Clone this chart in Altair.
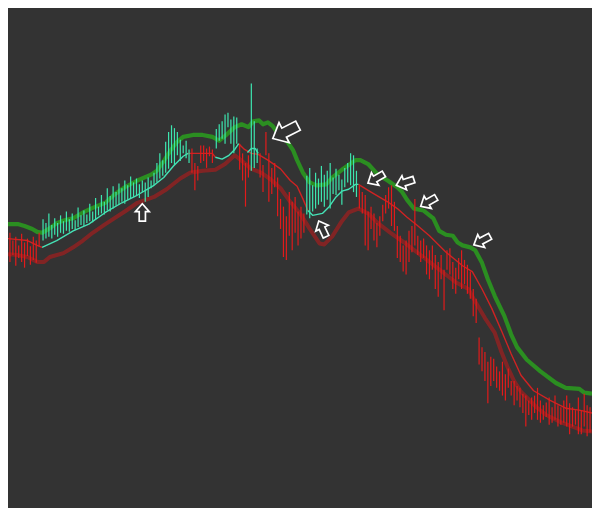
import altair as alt
import pandas as pd

# ---- price levels (screen-price units, larger = lower on chart) ----
green_band = [(0, 223), (10, 223), (17, 225), (25, 228), (30, 231), (35, 232), (42, 228), (50, 222),
              (58, 219), (67, 217), (77, 211), (90, 205), (100, 201), (110, 192), (120, 185), (133, 178),
              (147, 172), (153, 168), (160, 158), (167, 147), (173, 139), (180, 133), (190, 131), (200, 131),
              (210, 133), (217, 137), (223, 132), (233, 123), (240, 120), (247, 123), (252, 117), (258, 116),
              (262, 120), (267, 118), (272, 122), (280, 133), (287, 138), (293, 147), (297, 157), (303, 170),
              (310, 180), (317, 183), (327, 182), (333, 175), (343, 167), (350, 162), (357, 157), (362, 157),
              (370, 161), (380, 172), (390, 178), (400, 185), (405, 190), (410, 198), (417, 207), (427, 209),
              (437, 217), (443, 230), (450, 234), (457, 235), (462, 242), (467, 245), (475, 247), (480, 250),
              (487, 263), (493, 280), (500, 297), (510, 318), (517, 337), (523, 350), (533, 363), (547, 375),
              (563, 387), (573, 392), (587, 393), (592, 397), (600, 398)]

lower_band = [(0, 254), (10, 255), (20, 257), (30, 262), (37, 262), (43, 257), (57, 253), (67, 247),
              (77, 240), (87, 232), (100, 223), (120, 210), (133, 201), (150, 195), (163, 187), (177, 176),
              (187, 170), (200, 168), (213, 167), (223, 161), (233, 152), (238, 156), (250, 166), (260, 170),
              (270, 177), (280, 186), (290, 200), (300, 212), (310, 228), (320, 243), (325, 244), (333, 236),
              (343, 220), (350, 211), (360, 207), (370, 212), (380, 222), (393, 232), (407, 242), (420, 252),
              (433, 262), (447, 273), (460, 283), (473, 290), (480, 303), (490, 320), (500, 335), (507, 355),
              (513, 370), (520, 385), (527, 396), (533, 402), (543, 412), (553, 420), (567, 427), (580, 432),
              (590, 436), (600, 437)]

mid_down_1 = [(0, 238), (20, 240), (30, 245), (35, 247)]
mid_up_1 = [(35, 247), (50, 240), (67, 230), (83, 223), (100, 211), (117, 201), (133, 193), (150, 183),
            (160, 175), (170, 163), (180, 153), (185, 150)]
mid_down_2 = [(185, 150), (200, 150), (210, 150), (213, 154)]
mid_up_2 = [(213, 154), (220, 156), (227, 152), (233, 146), (237, 140)]
mid_down_3 = [(237, 140), (243, 146), (250, 150), (257, 151), (267, 157), (280, 166), (290, 178),
              (297, 184), (303, 197), (308, 209)]
mid_up_3 = [(246, 149), (250, 145), (254, 145), (257, 150)]
mid_up_4 = [(308, 209), (313, 214), (323, 212), (330, 205), (337, 195), (343, 189), (350, 187),
            (357, 182), (360, 182)]
mid_down_4 = [(360, 182), (373, 190), (390, 200), (400, 207), (410, 216), (420, 224), (433, 235),
              (450, 252), (467, 266), (477, 272), (487, 290), (497, 310), (507, 333), (517, 357),
              (527, 379), (540, 395), (557, 405), (573, 413), (587, 415), (600, 418)]

# ---- bar spikes (x, high, low) ----
up_spike_x = [36, 39, 42, 45, 48, 51, 54, 57, 60, 63, 66, 69, 72, 75, 78, 81, 84, 87, 90, 93, 96, 99,
              102, 105, 108, 111, 114, 117, 120, 123, 126, 129, 132, 135, 138, 141, 144, 147, 150, 153,
              156, 159, 162, 165, 168, 171, 174, 177, 180, 183, 186,
              214, 217, 220, 223, 226, 229, 232, 235, 250, 253, 256,
              307, 310, 313, 316, 319, 322, 325, 328, 331, 334, 337, 340, 343, 346, 349, 352, 355, 358]
up_spike_hi = [218, 222, 212, 224, 217, 222, 214, 220, 210, 218, 212, 219, 206, 214, 209, 213, 202, 210,
               196, 205, 193, 200, 186, 194, 184, 190, 181, 186, 178, 183, 174, 180, 176, 182, 178, 180,
               175, 178, 170, 160, 150, 157, 138, 128, 121, 124, 128, 136, 142, 137, 146,
               125, 120, 117, 110, 108, 115, 112, 113, 78, 117, 145,
               173, 165, 183, 170, 176, 163, 172, 168, 160, 175, 166, 172, 177, 165, 160, 150, 152, 168]
up_spike_lo = [240, 238, 236, 238, 234, 236, 232, 233, 230, 231, 228, 229, 226, 224, 225, 222, 220, 221,
               218, 214, 212, 213, 209, 210, 207, 204, 203, 200, 202, 198, 196, 195, 193, 196, 190, 200,
               195, 186, 183, 180, 176, 173, 170, 166, 160, 162, 152, 158, 150, 155, 160,
               145, 137, 135, 140, 123, 140, 150, 140, 168, 165, 160,
               213, 217, 210, 207, 203, 200, 205, 198, 207, 192, 193, 188, 203, 185, 180, 183, 190, 195]

down_spike_x = [2, 5, 8, 11, 14, 17, 20, 23, 26, 29, 32,
                189, 192, 195, 198, 201, 204, 207, 210,
                238, 241, 244, 247, 259, 262, 265, 268, 271, 274, 277, 280, 283, 286, 289, 292, 295,
                298, 301, 304,
                361, 364, 367, 370, 373, 376, 379, 382, 385, 388, 391, 394, 397, 400, 403, 406, 409,
                412, 415, 418, 421, 424, 427, 430, 433, 436, 439, 442, 445, 448, 451, 454, 457, 460,
                463, 466, 469, 472, 475, 478, 481, 484, 487, 490, 493, 496, 499, 502, 505, 508, 511,
                514, 517, 520, 523, 526, 529, 532, 535, 538, 541, 544, 547, 550, 553, 556, 559, 562,
                565, 568, 571, 574, 577, 580, 583, 586, 589, 592, 595, 598]
down_spike_hi = [232, 240, 236, 245, 233, 242, 238, 246, 236, 240, 232,
                 145, 160, 163, 142, 142, 145, 143, 146,
                 140, 150, 160, 152, 150, 162, 128, 150, 165, 160, 175, 197, 205, 215, 190, 200, 195,
                 210, 205, 212,
                 183, 190, 193, 210, 205, 212, 222, 215, 203, 193, 185, 183, 200, 225, 235, 245, 240,
                 230, 225, 197, 235, 240, 238, 245, 250, 245, 255, 262, 255, 270, 250, 248, 262, 268,
                 258, 250, 260, 265, 272, 290, 300, 340, 350, 355, 365, 360, 362, 370, 375, 365, 378,
                 372, 385, 385, 390, 392, 398, 400, 405, 402, 400, 392, 405, 410, 407, 402, 412, 400,
                 410, 412, 405, 400, 408, 412, 415, 402, 415, 398, 410, 412]
down_spike_lo = [262, 255, 266, 258, 262, 268, 256, 265, 260, 263, 246,
                 170, 188, 178, 160, 158, 165, 153, 160,
                 167, 178, 205, 175, 175, 190, 152, 200, 192, 185, 215, 228, 257, 260, 235, 250, 232,
                 245, 238, 232,
                 207, 212, 245, 250, 228, 240, 247, 235, 220, 212, 207, 225, 230, 258, 262, 272, 275,
                 262, 252, 245, 255, 262, 258, 275, 280, 270, 290, 298, 280, 312, 270, 275, 290, 295,
                 280, 290, 285, 295, 300, 318, 325, 368, 375, 385, 408, 390, 385, 392, 395, 400, 405,
                 392, 400, 410, 405, 412, 418, 432, 420, 425, 418, 425, 428, 425, 422, 430, 428, 425,
                 432, 430, 428, 432, 440, 432, 430, 440, 440, 432, 442, 438]

# ---- signal arrows ----
arrow_x = [138, 285, 323, 378, 408, 432, 487]
arrow_y = [211, 128, 228, 176, 180, 200, 240]
arrow_dir = [0, 243, 335, 240, 252, 240, 242]
arrow_area = [300, 800, 300, 340, 340, 320, 340]

BG = "#333333"
xs = alt.Scale(domain=[0, 600], nice=False, zero=False)
ys = alt.Scale(domain=[0, 516], reverse=True, nice=False, zero=False)
X = alt.X("x:Q", scale=xs, axis=None)
Y = alt.Y("y:Q", scale=ys, axis=None)


def line_layer(points, color, width, opacity=1.0):
    df = pd.DataFrame(points, columns=["x", "y"])
    return alt.Chart(df).mark_line(color=color, strokeWidth=width, opacity=opacity,
                                   clip=True, strokeJoin="round").encode(x=X, y=Y, order="x:Q")


lower = line_layer(lower_band, "#862424", 4, 0.95)
mids = [line_layer(s, "#cf2323", 1.4) for s in (mid_down_1, mid_down_2, mid_down_3, mid_down_4)]
mids += [line_layer(s, "#45e2b6", 1.4) for s in (mid_up_1, mid_up_2, mid_up_3, mid_up_4)]
green = line_layer(green_band, "#2b8e21", 4.2)

up_df = pd.DataFrame({"x": up_spike_x, "y": up_spike_hi, "y2": up_spike_lo})
dn_df = pd.DataFrame({"x": down_spike_x, "y": down_spike_hi, "y2": down_spike_lo})
up_spikes = alt.Chart(up_df).mark_rule(color="#3de6b0", strokeWidth=1.2).encode(x=X, y=Y, y2="y2:Q")
dn_spikes = alt.Chart(dn_df).mark_rule(color="#e11b1b", strokeWidth=1.2).encode(x=X, y=Y, y2="y2:Q")

arrow_path = "M0,-1 L0.8,-0.1 L0.36,-0.1 L0.36,1 L-0.36,1 L-0.36,-0.1 L-0.8,-0.1 Z"
ar_df = pd.DataFrame({"x": arrow_x, "y": arrow_y, "a": arrow_dir, "s": arrow_area})
arrows = alt.Chart(ar_df).mark_point(shape=arrow_path, filled=True, fill=BG, stroke="white",
                                     strokeWidth=1.7, opacity=1).encode(
    x=X, y=Y,
    angle=alt.Angle("a:Q", scale=None),
    size=alt.Size("s:Q", scale=None, legend=None),
)

chart = alt.layer(lower, *mids, green, dn_spikes, up_spikes, arrows).properties(
    width=584, height=500, padding=0, background=BG,
    autosize=alt.AutoSizeParams(type="none"),
).configure_view(strokeWidth=0)

chart.save("out.html", embed_options={"renderer": "svg", "actions": False})
